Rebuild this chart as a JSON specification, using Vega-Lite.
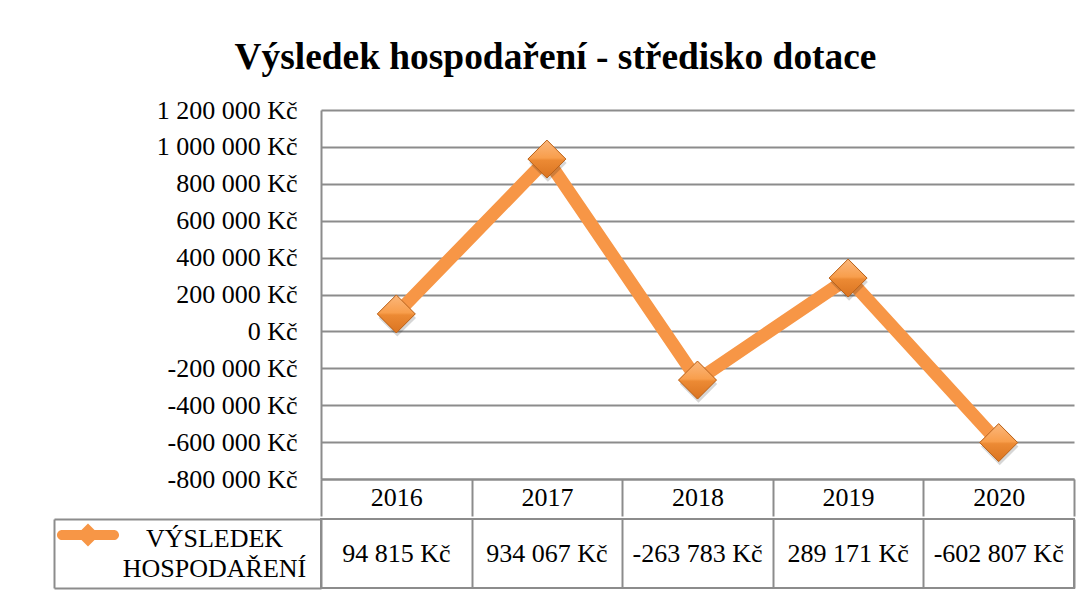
{
  "$schema": "https://vega.github.io/schema/vega-lite/v6.json",
  "background": "white",
  "padding": {"left": 52, "top": 38, "right": 5, "bottom": 5},
  "title": {
    "text": "Výsledek hospodaření - středisko dotace",
    "font": "Liberation Serif",
    "fontSize": 37.4,
    "fontWeight": "bold",
    "color": "black",
    "anchor": "middle",
    "offset": 21,
    "dx": -8
  },
  "config": {
    "locale": {
      "number": {"decimal": ",", "thousands": " ", "grouping": [3], "currency": ["", " Kč"], "minus": "-"}
    },
    "font": "Liberation Serif",
    "axis": {
      "labelFont": "Liberation Serif",
      "labelFontSize": 26,
      "labelColor": "black",
      "gridColor": "#8c8c8c",
      "gridWidth": 2,
      "domainColor": "#8c8c8c",
      "domainWidth": 2,
      "tickColor": "#8c8c8c",
      "tickWidth": 2
    },
    "concat": {"spacing": 0}
  },
  "datasets": {
    "vysledek": [
      {"rok": "2016", "hodnota": 94815, "serie": "VÝSLEDEK HOSPODAŘENÍ"},
      {"rok": "2017", "hodnota": 934067, "serie": "VÝSLEDEK HOSPODAŘENÍ"},
      {"rok": "2018", "hodnota": -263783, "serie": "VÝSLEDEK HOSPODAŘENÍ"},
      {"rok": "2019", "hodnota": 289171, "serie": "VÝSLEDEK HOSPODAŘENÍ"},
      {"rok": "2020", "hodnota": -602807, "serie": "VÝSLEDEK HOSPODAŘENÍ"}
    ]
  },
  "spacing": 0,
  "vconcat": [
    {
      "width": 753,
      "height": 369,
      "view": {"stroke": null},
      "data": {"name": "vysledek"},
      "encoding": {
        "x": {
          "field": "rok",
          "type": "ordinal",
          "bandPosition": 0.5,
          "scale": {"type": "band", "paddingInner": 0, "paddingOuter": 0},
          "axis": {
            "title": null,
            "orient": "bottom",
            "labelAngle": 0,
            "tickBand": "extent",
            "tickSize": 37,
            "labelPadding": -18.5,
            "labelBaseline": "middle",
            "grid": false
          }
        },
        "y": {
          "field": "hodnota",
          "type": "quantitative",
          "scale": {"domain": [-800000, 1200000], "nice": false, "zero": false},
          "axis": {
            "title": null,
            "values": [-800000, -600000, -400000, -200000, 0, 200000, 400000, 600000, 800000, 1000000, 1200000],
            "format": "$,.0f",
            "ticks": false,
            "labelPadding": 24,
            "minExtent": 267,
            "maxExtent": 267,
            "grid": true
          }
        }
      },
      "layer": [
        {
          "mark": {"type": "line", "stroke": "#F79646", "strokeWidth": 13, "strokeJoin": "round", "strokeCap": "round"}
        },
        {
          "mark": {"type": "point", "shape": "diamond", "filled": true, "size": 1400, "opacity": 0.16, "fill": "#000000", "xOffset": 1, "yOffset": 4}
        },
        {
          "mark": {"type": "point", "shape": "diamond", "filled": true, "size": 1444, "opacity": 1},
          "encoding": {
            "color": {
              "field": "serie",
              "type": "nominal",
              "scale": {"range": ["#F79646"]},
              "legend": {
                "orient": "none",
                "legendX": -265,
                "legendY": 393,
                "title": null,
                "labelExpr": "''",
                "symbolType": "M-0.81,-0.16 L0.81,-0.16 A0.16,0.16 0 0 1 0.81,0.16 L-0.81,0.16 A0.16,0.16 0 0 1 -0.81,-0.16 Z M0,-0.36 L0.36,0 L0,0.36 L-0.36,0 Z",
                "symbolSize": 4096,
                "symbolStrokeWidth": 0,
                "symbolOpacity": 1
              }
            }
          }
        },
        {
          "mark": {
            "type": "point",
            "shape": "diamond",
            "filled": true,
            "size": 1444,
            "opacity": 1,
            "fill": {
              "gradient": "linear",
              "x1": 0, "y1": 0, "x2": 0, "y2": 1,
              "stops": [
                {"offset": 0, "color": "#FBB77C"},
                {"offset": 0.47, "color": "#F89E4C"},
                {"offset": 0.53, "color": "#EC8A34"},
                {"offset": 1, "color": "#DA7421"}
              ]
            },
            "stroke": "#B8621C",
            "strokeWidth": 1
          }
        }
      ]
    },
    {
      "width": 753,
      "height": 69,
      "view": {"stroke": "#8c8c8c", "strokeWidth": 2},
      "data": {"name": "vysledek"},
      "mark": {"type": "text", "fontSize": 26, "font": "Liberation Serif", "color": "black", "baseline": "middle"},
      "encoding": {
        "x": {
          "field": "rok",
          "type": "ordinal",
          "bandPosition": 0.5,
          "scale": {"type": "band", "paddingInner": 0, "paddingOuter": 0},
          "axis": {"title": null, "grid": true, "tickBand": "extent", "labels": false, "ticks": false, "domain": false}
        },
        "y": {
          "field": "serie",
          "type": "nominal",
          "bandPosition": 0.5,
          "scale": {"type": "band", "paddingInner": 0, "paddingOuter": 0},
          "axis": {
            "title": null,
            "orient": "left",
            "offset": 267,
            "domain": true,
            "ticks": true,
            "tickBand": "extent",
            "tickSize": -267,
            "labelExpr": "datum.label ? ['VÝSLEDEK', 'HOSPODAŘENÍ'] : ''",
            "labelFontSize": {"condition": {"test": "!datum.label", "value": 0}, "value": 26},
            "labelAlign": "center",
            "labelBaseline": "middle",
            "labelPadding": 107,
            "labelOffset": -15,
            "labelLineHeight": 30,
            "labelLimit": 400,
            "grid": false
          }
        },
        "text": {"field": "hodnota", "type": "quantitative", "format": "$,.0f"}
      }
    }
  ]
}
